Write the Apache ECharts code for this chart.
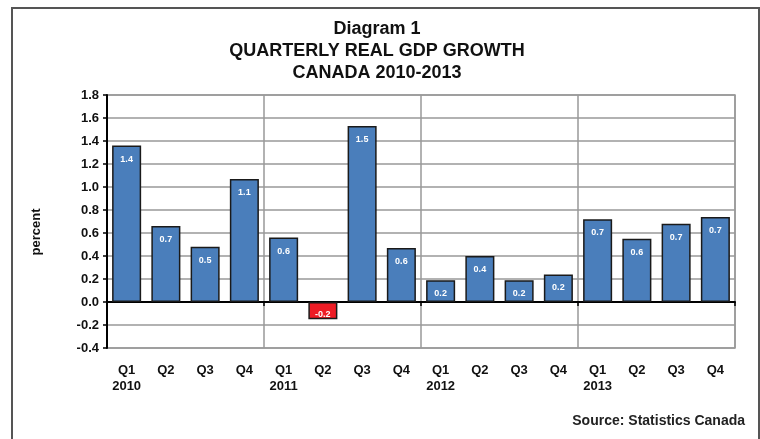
<!DOCTYPE html>
<html>
<head>
<meta charset="utf-8">
<script src="https://cdn.jsdelivr.net/npm/echarts@6/dist/echarts.min.js"></script>
<style>html,body{margin:0;padding:0;background:#fff}#c{width:760px;height:439px}</style>
</head>
<body>
<div id="c"></div>
<script>
var quarters = ['Q1','Q2','Q3','Q4','Q1','Q2','Q3','Q4','Q1','Q2','Q3','Q4','Q1','Q2','Q3','Q4'];
var years = ['2010','','','','2011','','','','2012','','','','2013','','',''];
var growth = [1.36,0.66,0.48,1.07,0.56,-0.15,1.53,0.47,0.19,0.40,0.19,0.24,0.72,0.55,0.68,0.74];
var valueLabels = ['1.4','0.7','0.5','1.1','0.6','-0.2','1.5','0.6','0.2','0.4','0.2','0.2','0.7','0.6','0.7','0.7'];
var yTicks = ['-0.4','-0.2','0.0','0.2','0.4','0.6','0.8','1.0','1.2','1.4','1.6','1.8'];
var titleLines = ['Diagram 1','QUARTERLY REAL GDP GROWTH','CANADA 2010-2013'];

var cats = quarters.map(function(q,i){ return years[i] ? q + '\n' + years[i] : q; });
var F = 'Liberation Sans, Arial, sans-serif';

var chart = echarts.init(document.getElementById('c'), null, {renderer:'canvas'});
var data = growth.map(function(v,i){
  var item = {value: v};
  if (v < 0) {
    item.itemStyle = {color:'#ee1c25'};
    item.label = {position:'insideBottom', distance:0};
  }
  return item;
});
chart.setOption({
  animation:false,
  backgroundColor:'#fff',
  grid:{left:107, right:25, top:95, bottom:91, show:true, borderColor:'#999', borderWidth:1.5},
  xAxis:[{
    type:'category', data:cats, position:'bottom',
    axisLine:{show:false, onZero:false}, axisTick:{show:false},
    splitLine:{show:true, interval:function(i){return i%4===0;}, lineStyle:{color:'#999', width:1.5}},
    axisLabel:{interval:0, margin:14, fontFamily:F, fontSize:13, fontWeight:'bold', color:'#111', lineHeight:16}
  },{
    type:'category', data:cats, position:'bottom', gridIndex:0,
    axisLine:{show:true, onZero:true, lineStyle:{color:'#000', width:2}},
    axisTick:{show:true, interval:function(i){return i%4===0;}, length:4, lineStyle:{color:'#000', width:1.5}},
    axisLabel:{show:false}, splitLine:{show:false}
  }],
  yAxis:{
    type:'value', min:-0.4, max:1.8, interval:0.2,
    axisLine:{show:true, lineStyle:{color:'#000', width:2}},
    axisTick:{show:true, length:4, lineStyle:{color:'#000', width:1.5}},
    splitLine:{show:true, lineStyle:{color:'#999', width:1.5}},
    axisLabel:{margin:8, fontFamily:F, fontSize:13, fontWeight:'bold', color:'#111',
      formatter:function(v){ var i = Math.round((v+0.4)/0.2); return yTicks[i] !== undefined ? yTicks[i] : v.toFixed(1); }}
  },
  graphic:[
    {type:'rect', shape:{x:12, y:8, width:747, height:480}, style:{fill:'none', stroke:'#555', lineWidth:2}, silent:true},
    {type:'text', x:377, y:18, style:{text:titleLines.join('\n'), fontFamily:F, fontSize:18, fontWeight:'bold', fill:'#111', textAlign:'center', lineHeight:22}},
    {type:'text', x:36, y:232, rotation:Math.PI/2, style:{text:'percent', fontFamily:F, fontSize:13, fontWeight:'bold', fill:'#111', textAlign:'center', textVerticalAlign:'middle'}},
    {type:'text', right:15, top:414, style:{text:'Source: Statistics Canada', fontFamily:F, fontSize:14, fontWeight:'bold', fill:'#222'}}
  ],
  series:[{
    type:'bar', xAxisIndex:0, data:data, barCategoryGap:'26%',
    itemStyle:{color:'#4a7ebb', borderColor:'#1a1a1a', borderWidth:1.5},
    label:{show:true, position:'insideTop', distance:9, fontFamily:F, fontSize:9, fontWeight:'bold', color:'#fff',
      formatter:function(p){ return valueLabels[p.dataIndex]; }}
  }]
});
</script>
</body>
</html>
